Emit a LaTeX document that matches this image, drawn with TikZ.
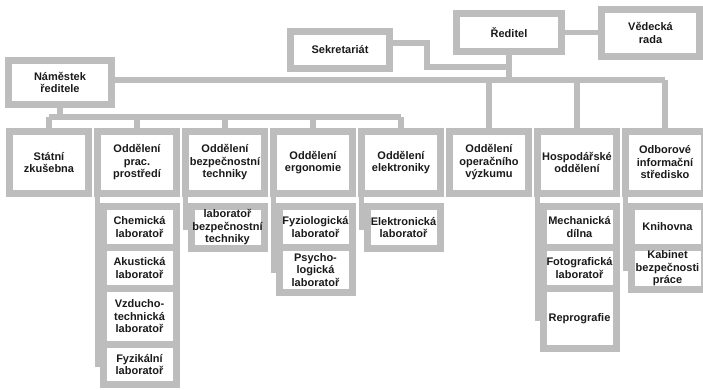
\documentclass[tikz,border=0pt]{standalone}
\usepackage{fontspec}
\setmainfont{Liberation Sans}
\usetikzlibrary{positioning}
\definecolor{framegray}{HTML}{BDBDBD}
\definecolor{inkgray}{HTML}{1A1A1A}

\begin{document}
\begin{tikzpicture}[x=1pt,y=-1pt,node distance=88pt,
	every node/.style={font=\bfseries\fontsize{11}{12.5}\selectfont,text=inkgray},
	box/.style={rectangle,draw=framegray,fill=white,line width=7pt,outer sep=0pt,inner sep=0.5pt,align=center},
	dept node/.style={box,minimum width=79pt,minimum height=62pt},
	lab node/.style={box,minimum width=73pt,minimum height=41pt},
	link/.style={draw=framegray,line width=5.5pt}]

	\fill[white] (0,0) rectangle (703,390);
	\useasboundingbox (0,0) rectangle (703,390);

	% vedeni
	\node[box,minimum width=105pt,minimum height=38pt] (red) at (509,32.5) {Ředitel};
	\node[box,minimum width=98pt,minimum height=47pt] (ved) at (650.5,33) {Vědecká\\rada};
	\node[box,minimum width=99pt,minimum height=37pt] (sek) at (340,50) {Sekretariát};
	\node[box,minimum width=103pt,minimum height=44pt] (nam) at (60,82.5) {Náměstek\\ředitele};

	% oddeleni
	\node[dept node] (statni) at (49,162.5) {Státní\\zkušebna};
	\node[dept node] (prac) [right of=statni] {Oddělení\\prac.\\prostředí};
	\node[dept node] (bezp) [right of=prac] {Oddělení\\bezpečnostní\\techniky};
	\node[dept node] (ergo) [right of=bezp] {Oddělení\\ergonomie};
	\node[dept node] (elek) [right of=ergo] {Oddělení\\elektroniky};
	\node[dept node] (oper) [right of=elek] {Oddělení\\operačního\\výzkumu};
	\node[dept node] (hosp) [right of=oper] {Hospodářské\\oddělení};
	\node[dept node] (odbor) [right of=hosp] {Odborové\\informační\\středisko};

	% laboratore
	\node[lab node] (chem) [below=13pt of prac,xshift=2.5pt] {Chemická\\laboratoř};
	\node[lab node] (aku) [below=0pt of chem] {Akustická\\laboratoř};
	\node[lab node,minimum height=56pt] (vzd) [below=0pt of aku] {Vzducho-\\technická\\laboratoř};
	\node[lab node,minimum height=40pt] (fyzik) [below=0pt of vzd] {Fyzikální\\laboratoř};

	\node[lab node,minimum height=42pt] (labbt) [below=13pt of bezp,xshift=2.5pt] {laboratoř\\bezpečnostní\\techniky};

	\node[lab node] (fyzio) [below=13pt of ergo,xshift=2.5pt] {Fyziologická\\laboratoř};
	\node[lab node,minimum height=45pt] (psycho) [below=0pt of fyzio] {Psycho-\\logická\\laboratoř};

	\node[lab node,minimum height=42pt] (elab) [below=13pt of elek,xshift=2.5pt] {Elektronická\\laboratoř};

	\node[lab node] (mech) [below=13pt of hosp,xshift=2.5pt] {Mechanická\\dílna};
	\node[lab node] (foto) [below=0pt of mech] {Fotografická\\laboratoř};
	\node[lab node,minimum height=60pt] (repro) [below=0pt of foto] {Reprografie};

	\node[lab node] (kniho) [below=13pt of odbor,xshift=2.5pt] {Knihovna};
	\node[lab node,minimum height=42pt] (kabinet) [below=0pt of kniho] {Kabinet\\bezpečnosti\\práce};

	% spoje
	\coordinate (hbus) at (509,80);
	\coordinate (lbus) at (63,117);
	\coordinate (sekturn) at (427,67);

	\draw[link] (red.east) -- (red.east -| ved.west);
	\draw[link] ([yshift=7pt]sek.east) -| (sekturn) -- (sekturn -| red.south);
	\draw[link] (red.south) -- (red.south |- hbus);
	\draw[link] (nam.east |- hbus) -- (hbus -| odbor.north);
	\foreach \n in {oper,hosp,odbor}
		\draw[link] (hbus -| \n.north) -- (\n.north);

	\draw[link] (nam.south) -- (nam.south |- lbus);
	\draw[link] (lbus -| statni.north) -- (lbus -| elek.north);
	\foreach \n in {statni,prac,bezp,ergo,elek}
		\draw[link] (lbus -| \n.north) -- (\n.north);

	\draw[link] (prac.south west) |- (fyzik.west);
	\draw[link] (bezp.south west) |- (labbt.west);
	\draw[link] (ergo.south west) |- (psycho.west);
	\draw[link] (elek.south west) |- (elab.west);
	\draw[link] (hosp.south west) |- (repro.west);
	\draw[link] (odbor.south west) |- (kabinet.west);
\end{tikzpicture}
\end{document}
